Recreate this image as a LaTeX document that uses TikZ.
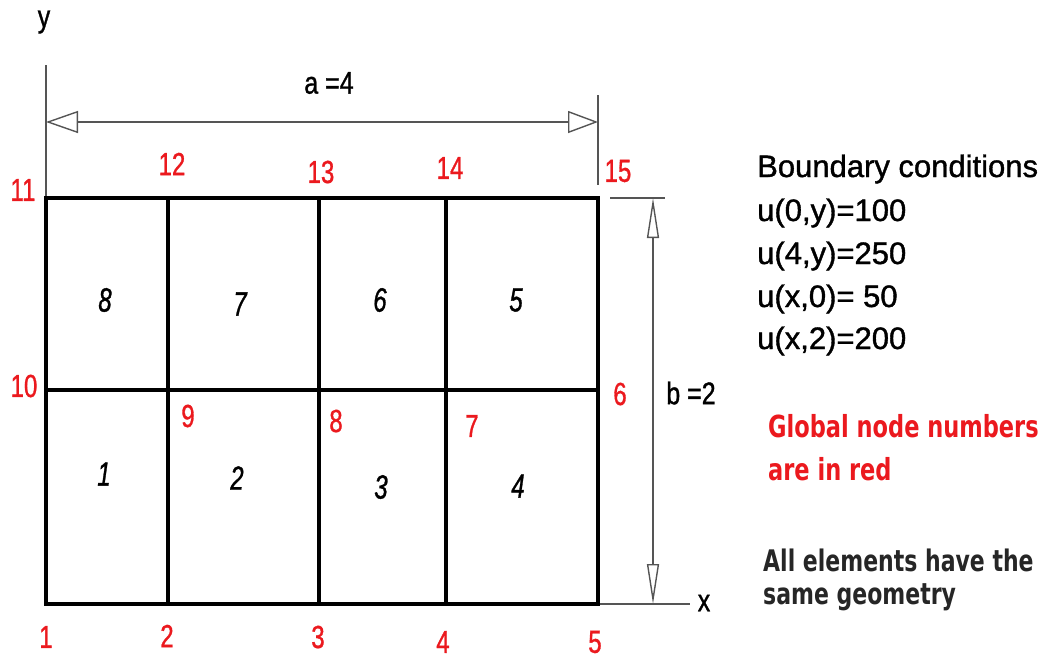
\documentclass[tikz,border=0pt]{standalone}
\usepackage{fontspec}
\setmainfont{Liberation Sans}
\newfontfamily\dvsans{DejaVu Sans}
\newfontfamily\heavy{Liberation Sans}[FakeBold=1.2]
\usetikzlibrary{arrows.meta}
\definecolor{nred}{RGB}{235,25,30}
\definecolor{dimc}{RGB}{85,85,85}
\newcommand{\rnum}[1]{\scalebox{1}[1.33]{\heavy\fontsize{24}{24}\selectfont #1}}
\newcommand{\enum}[1]{\scalebox{1}[1.4]{\heavy\fontsize{24}{24}\selectfont\itshape #1}}
\newcommand{\dimtxt}[1]{\scalebox{1}[1.25]{\heavy\fontsize{25}{25}\selectfont #1}}
\tikzset{
  gridline/.style={line width=3.4pt, black},
  thinline/.style={line width=1.5pt, dimc},
  hdim/.style={thinline, {Triangle[open,length=32pt,width=22pt,line width=1.4pt]}-{Triangle[open,length=30pt,width=22pt,line width=1.4pt]}},
  vdim/.style={thinline, {Triangle[open,length=40pt,width=12pt,line width=1.4pt]}-{Triangle[open,length=40pt,width=12pt,line width=1.4pt]}},
  rlab/.style={text=nred, inner sep=0pt, anchor=center},
  elab/.style={text=black, inner sep=0pt, anchor=center},
  bctxt/.style={anchor=base west, inner sep=0pt, font=\heavy\fontsize{31}{31}\selectfont},
  notetxt/.style={anchor=base west, inner sep=0pt},
}
\begin{document}
\begin{tikzpicture}[x=1pt,y=-1pt]
\useasboundingbox (0,0) rectangle (1056,659);
% grid points
\coordinate (n1) at (46,604);
\coordinate (n2) at (168,604);
\coordinate (n3) at (319,604);
\coordinate (n4) at (446,604);
\coordinate (n5) at (598,604);
\coordinate (n6) at (598,390);
\coordinate (n7) at (446,390);
\coordinate (n8) at (319,390);
\coordinate (n9) at (168,390);
\coordinate (n10) at (46,390);
\coordinate (n11) at (46,198);
\coordinate (n12) at (168,198);
\coordinate (n13) at (319,198);
\coordinate (n14) at (446,198);
\coordinate (n15) at (598,198);
% axes and dimension helpers
\coordinate (ytop) at (46,65);
\coordinate (xend) at (690,604);
\coordinate (ext1a) at (598,95);
\coordinate (ext1b) at (598,185);
\coordinate (ext2a) at (610,198);
\coordinate (ext2b) at (665,198);
\coordinate (da1) at (46,122);
\coordinate (da2) at (598,122);
\coordinate (db1) at (653,198);
\coordinate (db2) at (653,604);

\draw[thinline] (n11) -- (ytop);
\draw[thinline] (n5) -- (xend);
\draw[thinline] (ext1a) -- (ext1b);
\draw[thinline] (ext2a) -- (ext2b);
\draw[hdim] (da1) -- (da2);
\draw[vdim] (db1) -- (db2);

% mesh
\draw[gridline] (n1) rectangle (n15);
\draw[gridline] (n10) -- (n6);
\draw[gridline] (n2) -- (n12);
\draw[gridline] (n3) -- (n13);
\draw[gridline] (n4) -- (n14);

% axis labels and dimensions
\node[elab] (ylab) at (44,22) {\dimtxt{y}};
\node[elab] (xlab) at (704,603) {\dimtxt{x}};
\node[elab] (alab) at (329,83) {\dimtxt{a =4}};
\node[elab] (blab) at (691,393) {\dimtxt{b =2}};

% global node numbers
\node[rlab] (g1) at (46,637) {\rnum{1}};
\node[rlab] (g2) at (167,636) {\rnum{2}};
\node[rlab] (g3) at (318,637) {\rnum{3}};
\node[rlab] (g4) at (443,642) {\rnum{4}};
\node[rlab] (g5) at (595,642) {\rnum{5}};
\node[rlab] (g6) at (620,394) {\rnum{6}};
\node[rlab] (g7) at (472,426) {\rnum{7}};
\node[rlab] (g8) at (336,421) {\rnum{8}};
\node[rlab] (g9) at (188,416) {\rnum{9}};
\node[rlab] (g10) at (24,386) {\rnum{10}};
\node[rlab] (g11) at (23,190) {\rnum{11}};
\node[rlab] (g12) at (172,164) {\rnum{12}};
\node[rlab] (g13) at (321,172) {\rnum{13}};
\node[rlab] (g14) at (450,168) {\rnum{14}};
\node[rlab] (g15) at (618,171) {\rnum{15}};

% element numbers
\node[elab] (e1) at (104,474) {\enum{1}};
\node[elab] (e2) at (237,478) {\enum{2}};
\node[elab] (e3) at (381,487) {\enum{3}};
\node[elab] (e4) at (518,486) {\enum{4}};
\node[elab] (e5) at (516,300) {\enum{5}};
\node[elab] (e6) at (380,300) {\enum{6}};
\node[elab] (e7) at (240,304) {\enum{7}};
\node[elab] (e8) at (105,300) {\enum{8}};

% boundary conditions
\node[bctxt] (bc0) at (757,177) {Boundary conditions};
\node[bctxt] (bc1) at (757,221) {u(0,y)=100};
\node[bctxt] (bc2) at (757,264) {u(4,y)=250};
\node[bctxt] (bc3) at (757,307) {u(x,0)= 50};
\node[bctxt] (bc4) at (757,349) {u(x,2)=200};

% notes
\node[notetxt, text=nred] (nt1) at (768,437) {\scalebox{1}[1.35]{\dvsans\bfseries\fontsize{22.5}{22.5}\selectfont Global node numbers}};
\node[notetxt, text=nred] (nt2) at (768,480) {\scalebox{1}[1.35]{\dvsans\bfseries\fontsize{22.5}{22.5}\selectfont are in red}};
\node[notetxt, text=black!85] (nt3) at (763,571) {\scalebox{1}[1.35]{\dvsans\bfseries\fontsize{22}{22}\selectfont All elements have the}};
\node[notetxt, text=black!85] (nt4) at (763,604) {\scalebox{1}[1.35]{\dvsans\bfseries\fontsize{22}{22}\selectfont same geometry}};
\end{tikzpicture}
\end{document}
